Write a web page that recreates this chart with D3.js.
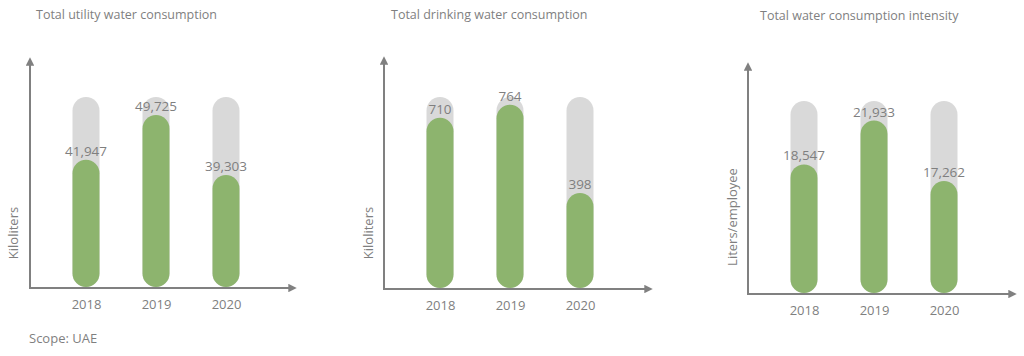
<!DOCTYPE html>
<html>
<head>
<meta charset="utf-8">
<script src="https://cdn.jsdelivr.net/npm/d3@7"></script>
<style>
  html, body { margin: 0; padding: 0; background: #ffffff; }
  svg { display: block; }
  text { font-family: "Open Sans", "DejaVu Sans", sans-serif; fill: #7f7f7f; }
</style>
</head>
<body>
<svg id="chart" width="1024" height="356"></svg>
<script>
// ---- data ----
const years = ["2018", "2019", "2020"];
const utilityValues = [41947, 49725, 39303];
const drinkingValues = [710, 764, 398];
const intensityValues = [18547, 21933, 17262];
const titles = ["Total utility water consumption", "Total drinking water consumption", "Total water consumption intensity"];
const yAxisLabels = ["Kiloliters", "Kiloliters", "Liters/employee"];
const footnote = "Scope: UAE";

// ---- layout (not data) ----
const panels = [
  { values: utilityValues,   axisX: 30,  axisTop: 58, axisBottom: 288, axisRight: 296, titleX: 36,  titleY: 19, ylabX: 14,  ylabY: 233, bgTop: 97,  domain: [19700, 52860] },
  { values: drinkingValues,  axisX: 384, axisTop: 57, axisBottom: 289, axisRight: 652, titleX: 391, titleY: 19, ylabX: 369, ylabY: 233, bgTop: 97,  domain: [0, 796] },
  { values: intensityValues, axisX: 748, axisTop: 63, axisBottom: 294, axisRight: 1016, titleX: 760, titleY: 20, ylabX: 733, ylabY: 217, bgTop: 101, domain: [8544, 23441] }
];

const GREEN = "#8db46e";
const GREY = "#d9d9d9";
const AXIS = "#808080";
const barW = 27;

const svg = d3.select("#chart");

const defs = svg.append("defs");
defs.append("marker")
  .attr("id", "arrow")
  .attr("viewBox", "0 0 10 10")
  .attr("refX", 2).attr("refY", 5)
  .attr("markerWidth", 4.2).attr("markerHeight", 4.2)
  .attr("orient", "auto")
  .append("path")
  .attr("d", "M0,0 L10,5 L0,10 Z")
  .attr("fill", AXIS);

panels.forEach((p, i) => {
  const g = svg.append("g");
  const x = d3.scalePoint().domain(years).range([p.axisX + 56, p.axisX + 196]);
  const y = d3.scaleLinear().domain(p.domain).range([p.axisBottom, p.bgTop]);

  // title
  g.append("text")
    .attr("x", p.titleX).attr("y", p.titleY)
    .attr("font-size", 12.5)
    .attr("fill", "#767676")
    .text(titles[i]);

  // background capsules
  g.selectAll("rect.bg").data(years).join("rect")
    .attr("class", "bg")
    .attr("x", d => x(d) - barW / 2)
    .attr("y", y(p.domain[1]))
    .attr("width", barW)
    .attr("height", y(p.domain[0]) - y(p.domain[1]) - 1)
    .attr("rx", barW / 2).attr("ry", barW / 2)
    .attr("fill", GREY);

  // value capsules
  g.selectAll("rect.val").data(p.values).join("rect")
    .attr("class", "val")
    .attr("x", (d, j) => x(years[j]) - barW / 2)
    .attr("y", d => y(d))
    .attr("width", barW)
    .attr("height", d => y(p.domain[0]) - y(d) - 1)
    .attr("rx", barW / 2).attr("ry", barW / 2)
    .attr("fill", GREEN);

  // value labels
  g.selectAll("text.val").data(p.values).join("text")
    .attr("class", "val")
    .attr("x", (d, j) => x(years[j]))
    .attr("y", d => y(d) - 4)
    .attr("text-anchor", "middle")
    .attr("font-size", 13.5)
    .attr("fill", "#787878")
    .text(d => d3.format(",")(d));

  // x axis labels via d3 axis
  const ax = g.append("g")
    .attr("transform", `translate(0,${p.axisBottom})`)
    .call(d3.axisBottom(x).tickSize(0).tickPadding(12));
  ax.select(".domain").remove();
  ax.selectAll("text")
    .attr("font-family", "Open Sans, sans-serif")
    .attr("font-size", 13)
    .attr("fill", "#7f7f7f");

  // axis lines with arrows
  g.append("line")
    .attr("x1", p.axisX).attr("y1", p.axisBottom)
    .attr("x2", p.axisRight - 6).attr("y2", p.axisBottom)
    .attr("stroke", AXIS).attr("stroke-width", 2)
    .attr("marker-end", "url(#arrow)");
  g.append("line")
    .attr("x1", p.axisX).attr("y1", p.axisBottom + 1)
    .attr("x2", p.axisX).attr("y2", p.axisTop + 6)
    .attr("stroke", AXIS).attr("stroke-width", 2)
    .attr("marker-end", "url(#arrow)");

  // y axis label
  g.append("text")
    .attr("transform", `translate(${p.ylabX + 4},${p.ylabY}) rotate(-90)`)
    .attr("text-anchor", "middle")
    .attr("font-size", 13)
    .text(yAxisLabels[i]);
});

svg.append("text")
  .attr("x", 29).attr("y", 343)
  .attr("font-size", 13)
  .text(footnote);
</script>
</body>
</html>
